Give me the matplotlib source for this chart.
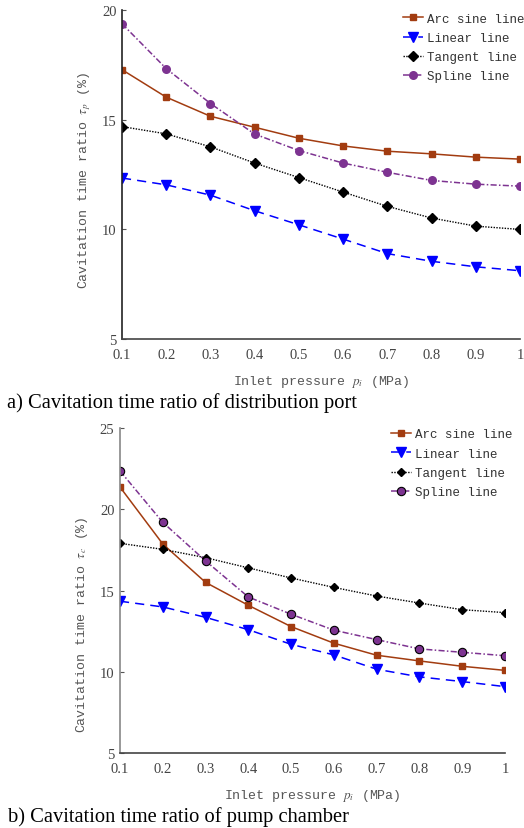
import matplotlib
matplotlib.use("Agg")
import matplotlib.pyplot as plt

# pressure values shared by both panels
pressure = [0.1, 0.2, 0.3, 0.4, 0.5, 0.6, 0.7, 0.8, 0.9, 1.0]

# a) distribution port
port_arcsine = [17.27, 16.02, 15.15, 14.65, 14.15, 13.80, 13.56, 13.44, 13.29, 13.20]
port_linear = [12.34, 12.03, 11.56, 10.85, 10.21, 9.56, 8.90, 8.55, 8.30, 8.12]
port_tangent = [14.68, 14.35, 13.76, 13.02, 12.36, 11.70, 11.05, 10.52, 10.15, 10.00]
port_spline = [19.36, 17.32, 15.73, 14.34, 13.59, 13.02, 12.60, 12.23, 12.06, 11.97]

# b) pump chamber
chamber_arcsine = [21.37, 17.87, 15.51, 14.10, 12.79, 11.77, 11.03, 10.68, 10.35, 10.10]
chamber_linear = [14.35, 14.00, 13.36, 12.60, 11.70, 11.05, 10.17, 9.70, 9.41, 9.10]
chamber_tangent = [17.91, 17.54, 17.03, 16.40, 15.78, 15.20, 14.67, 14.24, 13.83, 13.65]
chamber_spline = [22.36, 19.20, 16.83, 14.61, 13.55, 12.57, 11.99, 11.42, 11.21, 11.00]

labels = ["Arc sine line", "Linear line", "Tangent line", "Spline line"]
xticks = [0.1, 0.2, 0.3, 0.4, 0.5, 0.6, 0.7, 0.8, 0.9, 1]
xticklabels = ["0.1", "0.2", "0.3", "0.4", "0.5", "0.6", "0.7", "0.8", "0.9", "1"]

plt.rcParams["mathtext.fontset"] = "stix"

brown = "#A23C10"
purple = "#7D3391"
mono = "Liberation Mono"
serif = "Liberation Serif"

fig = plt.figure(figsize=(5.24, 8.29), dpi=100)


def panel(rect, data, yticks, edge, small, spine_col, ylab, ylab_xy, leg_xy):
    ax = fig.add_axes(rect)
    arc, lin, tan, spl = data
    if small:
        ms = [4.5, 7, 5, 6]
    else:
        ms = [5, 7.5, 6, 6.5]
    ax.plot(pressure, arc, "-", color=brown, lw=1.1, marker="s", ms=ms[0],
            label=labels[0])
    ax.plot(pressure, lin, color="#0000FF", lw=1.1, ls=(0, (6, 4)), marker="v",
            ms=ms[1], label=labels[1])
    ax.plot(pressure, tan, color="black", lw=1.0, ls=(0, (1, 1)), marker="D",
            ms=ms[2] * 0.8, label=labels[2])
    ax.plot(pressure, spl, color=purple, lw=1.1, ls=(0, (4, 1.5, 1, 1.5)),
            marker="o", ms=ms[3], mec=edge, mew=0.8, label=labels[3])

    ax.set_xlim(0.1, 1)
    ax.set_ylim(yticks[0], yticks[-1])
    ax.set_xticks(xticks)
    ax.set_xticklabels(xticklabels, family=serif, fontsize=10.5)
    ax.set_yticks(yticks)
    ax.set_yticklabels([str(t) for t in yticks], family=serif, fontsize=10.5)
    ax.tick_params(direction="in", length=3, width=0.8, colors="#555555",
                   labelcolor="#444444")
    ax.tick_params(axis="x", length=0, pad=6)
    ax.tick_params(axis="y", pad=4)
    ax.spines["top"].set_visible(False)
    ax.spines["right"].set_visible(False)
    ax.spines["left"].set_color(spine_col)
    ax.spines["bottom"].set_color("#444444")
    ax.spines["left"].set_linewidth(1.2)
    ax.spines["bottom"].set_linewidth(1.2)

    ax.set_xlabel("Inlet pressure $p_i$ (MPa)", family=mono, fontsize=9.5,
                  color="#555555", labelpad=9)
    ax.set_ylabel(ylab, family=mono, fontsize=9.5, color="#555555")
    ax.yaxis.set_label_coords(*ylab_xy)

    leg = ax.legend(loc="upper left", bbox_to_anchor=leg_xy,
                    bbox_transform=fig.transFigure, frameon=False,
                    prop={"family": mono, "size": 9}, handlelength=1.6,
                    handletextpad=0.3, labelspacing=0.58, borderpad=0)
    for t in leg.get_texts():
        t.set_color("#333333")
    return ax


panel([0.2328, 0.5895, 0.7596, 0.3976],
      [port_arcsine, port_linear, port_tangent, port_spline],
      [5, 10, 15, 20], "none", False, "#222222",
      "Cavitation time ratio $\\tau_p$ (%)", (-0.072, 0.485), (0.757, 0.991))

panel([0.229, 0.0901, 0.7347, 0.3924],
      [chamber_arcsine, chamber_linear, chamber_tangent, chamber_spline],
      [5, 10, 15, 20, 25], "black", True, "#888888",
      "Cavitation time ratio $\\tau_c$ (%)", (-0.077, 0.40), (0.735, 0.4895))

fig.text(0.014, 1 - 403 / 829, "a) Cavitation time ratio of distribution port",
         family=serif, fontsize=14.8, va="center", ha="left")
fig.text(0.016, 1 - 817 / 829, "b) Cavitation time ratio of pump chamber",
         family=serif, fontsize=14.8, va="center", ha="left")

fig.savefig("out.png", dpi=100)
